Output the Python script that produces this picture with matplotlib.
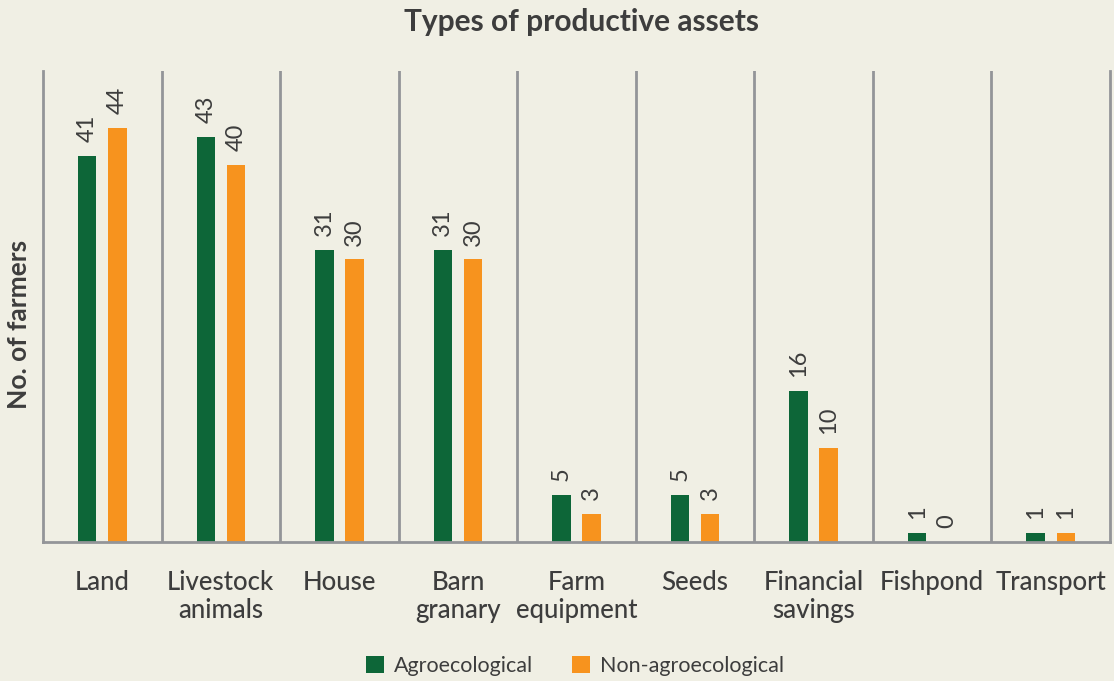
import matplotlib.pyplot as plt
import numpy as np

# data
categories = ['Land', 'Livestock\nanimals', 'House', 'Barn\ngranary', 'Farm\nequipment',
              'Seeds', 'Financial\nsavings', 'Fishpond', 'Transport']
agroecological = [41, 43, 31, 31, 5, 5, 16, 1, 1]
non_agroecological = [44, 40, 30, 30, 3, 3, 10, 0, 1]

bg = '#f0efe4'
green = '#0d6638'
orange = '#f7931e'
grey = '#939598'
txt = '#3d3d3d'

plt.rcParams['font.family'] = ['Lato', 'DejaVu Sans']

fig = plt.figure(figsize=(11.14, 6.81), dpi=100, facecolor=bg)
ax = fig.add_axes([0.0386, 0.2041, 0.9578, 0.6916], facecolor=bg)

x = np.arange(len(categories))
w = 0.155
off = 0.127
b1 = ax.bar(x - off, agroecological, w, color=green, label='Agroecological')
b2 = ax.bar(x + off, non_agroecological, w, color=orange, label='Non-agroecological')

# value labels, rotated like the original
for bars in (b1, b2):
    for bar in bars:
        h = bar.get_height()
        ax.annotate(str(int(h)), (bar.get_x() + bar.get_width() / 2, h),
                    xytext=(0, 10), textcoords='offset points',
                    ha='center', va='bottom', rotation=90,
                    fontsize=17, color=txt)

# separators between categories
for sep in np.arange(0.5, len(categories) - 1, 1):
    ax.axvline(sep, color=grey, lw=2)

ax.set_xlim(-0.5, len(categories) - 0.5)
ax.set_ylim(0, 50)
ax.set_yticks([])
ax.set_xticks(x)
ax.set_xticklabels(categories, fontsize=18.5, color=txt, fontweight='medium', linespacing=1.15)
ax.tick_params(axis='x', length=0, pad=20)
for s in ['left', 'bottom', 'right']:
    ax.spines[s].set_color(grey)
    ax.spines[s].set_linewidth(2)
ax.spines['top'].set_visible(False)

fig.text(0.017, 0.523, 'No. of farmers', rotation=90, ha='center', va='center',
         fontsize=19, fontweight='bold', color=txt)
fig.text(0.522, 0.968, 'Types of productive assets', ha='center', va='center',
         fontsize=21.5, fontweight='bold', color=txt)

leg = fig.legend(handles=[b1, b2], loc='center', bbox_to_anchor=(0.516, 0.022), ncol=2,
                 frameon=False, fontsize=15.5, handlelength=0.85, handleheight=0.85,
                 columnspacing=1.8, handletextpad=0.45)
for t in leg.get_texts():
    t.set_color(txt)

fig.savefig('out.png', dpi=100, facecolor=bg)
